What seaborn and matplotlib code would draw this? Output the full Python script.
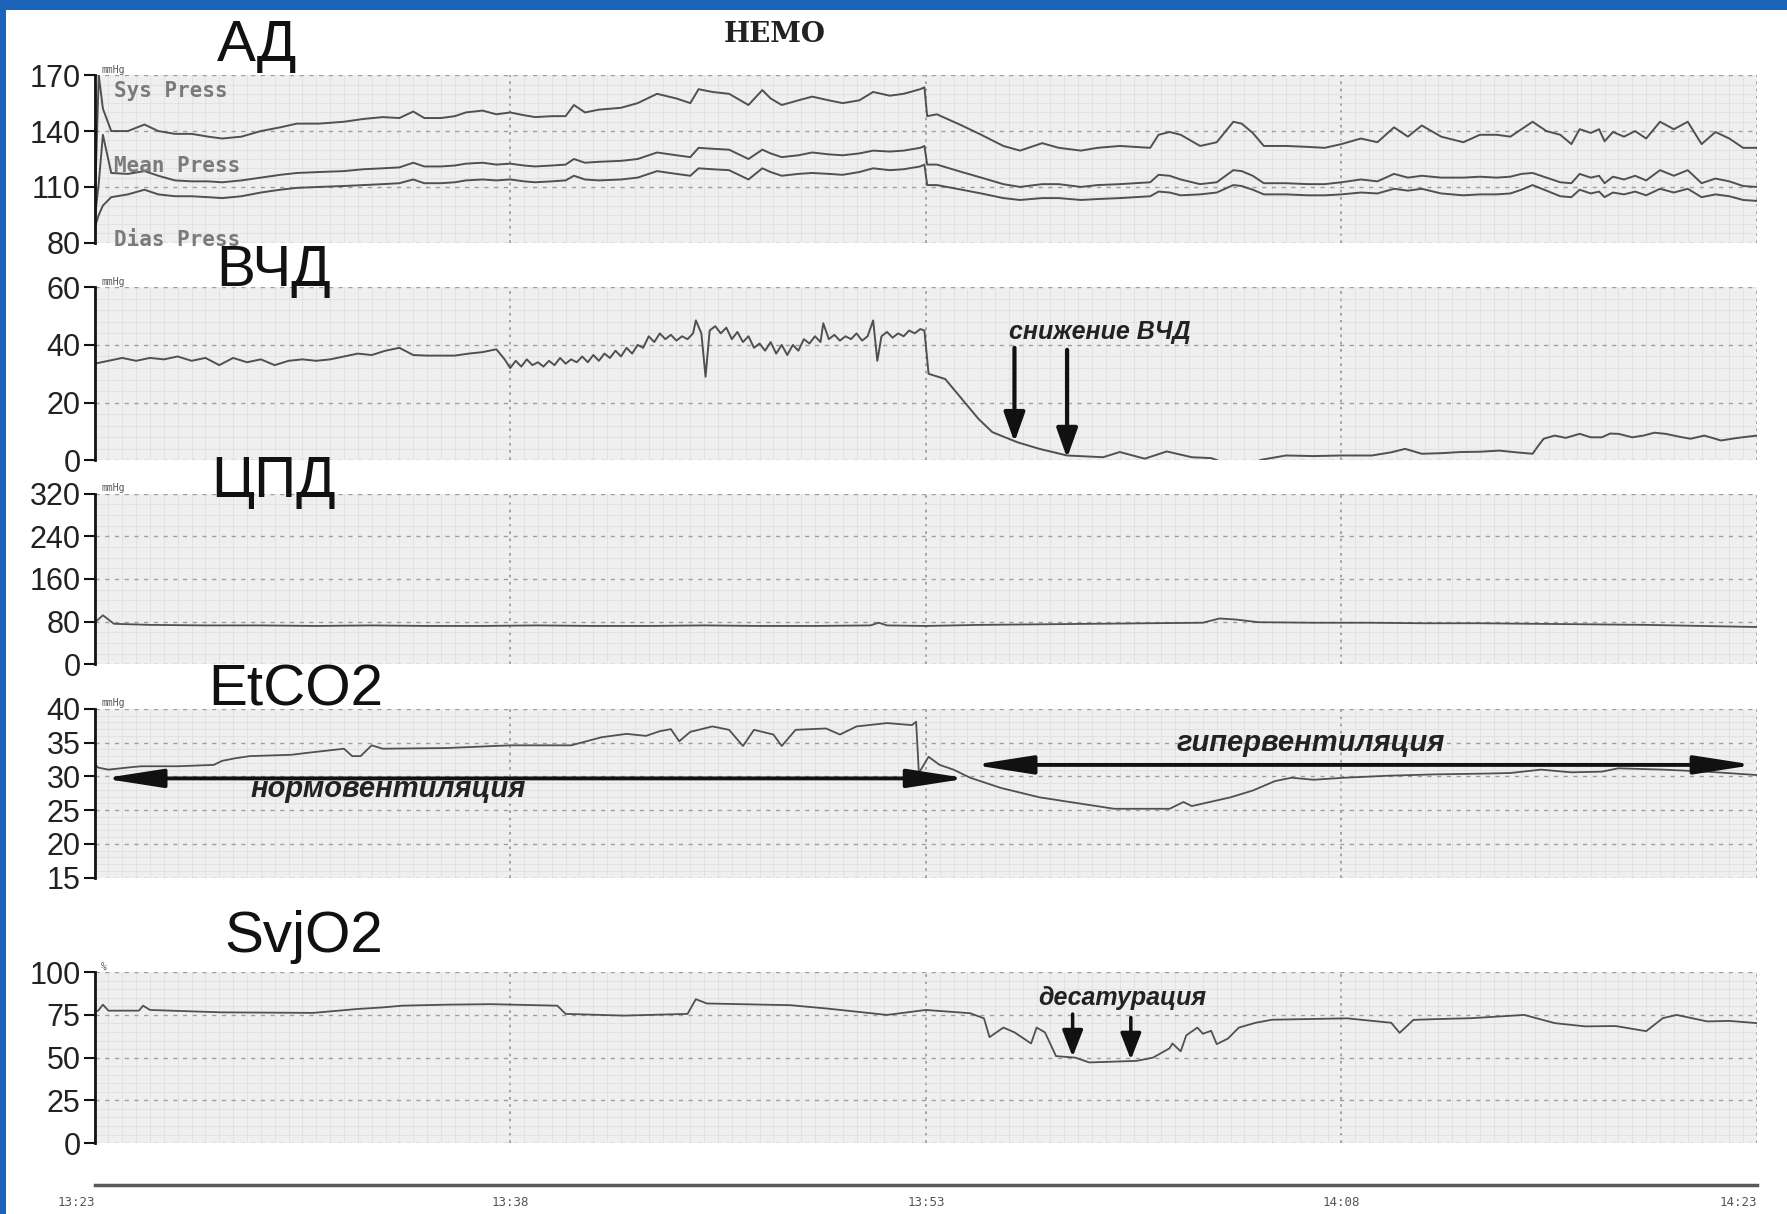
import numpy as np
import matplotlib
matplotlib.use("Agg")
import matplotlib.pyplot as plt
import seaborn as sns
from matplotlib.patches import Rectangle
from matplotlib.ticker import MultipleLocator

# ---------------- data (minutes from 13:23) ----------------
ad_t = [0.0, 0.15, 0.3, 0.6, 1.2, 1.8, 2.3, 2.9, 3.5, 4.1,
        4.6, 5.3, 6.0, 6.7, 7.3, 8.1, 9.0, 9.7, 10.4, 11.0,
        11.5, 11.9, 12.5, 13.0, 13.4, 14.0, 14.5, 15.0, 15.5, 15.9,
        16.5, 17.0, 17.3, 17.7, 18.2, 19.0, 19.6, 20.3, 21.0, 21.5,
        21.8, 22.3, 22.9, 23.6, 24.1, 24.4, 24.8, 25.4, 25.9, 26.5,
        27.0, 27.6, 28.1, 28.7, 29.2, 29.8, 29.95, 30.05, 30.4, 31.3,
        32.0, 32.8, 33.4, 34.2, 34.8, 35.6, 36.2, 37.0, 38.1, 38.4,
        38.8, 39.2, 39.9, 40.5, 41.1, 41.4, 41.8, 42.2, 43.0, 43.8,
        44.4, 45.0, 45.7, 46.3, 46.9, 47.4, 47.9, 48.6, 49.4, 50.0,
        50.6, 51.1, 51.5, 51.9, 52.4, 52.9, 53.3, 53.6, 54.0, 54.3,
        54.5, 54.8, 55.2, 55.6, 56.0, 56.5, 57.0, 57.5, 58.0, 58.5,
        59.0, 59.5, 60.0]
ad_sys = [96, 170, 152, 140, 140, 143.5, 140, 138.5, 138.5, 137,
          136, 137, 140, 142, 144, 144, 145, 146.5, 147.5, 147,
          150.5, 147, 147, 148, 150, 151, 149, 150, 148.5, 147.5,
          148, 148, 154, 150, 151.5, 152.5, 155, 160, 157.5, 155,
          162.5, 161, 160, 154, 162, 157.5, 154, 156.5, 158.5, 156.5,
          155, 156.5, 161, 159, 160, 162.5, 163.5, 148, 149, 143,
          138, 132, 129.5, 133.5, 131, 129.5, 131, 132, 131, 138,
          139.5, 138, 132, 134, 145, 144, 139, 132, 132, 131.5,
          131, 133, 136, 134, 142, 137, 143, 137, 134, 138,
          138, 137, 141, 145, 140, 138, 133, 141, 139, 141,
          134.5, 139.5, 137, 140, 136, 145, 141, 145, 133, 139.5,
          136, 131, 131]
ad_mean = [92, 112, 138, 117.5, 117, 118.5, 116, 113.5, 113, 113,
           112.5, 113.5, 115, 116.5, 117.5, 118, 118.5, 119.5, 120, 120.5,
           123, 121, 121, 121.5, 122.5, 123, 122, 122.5, 121.5, 121,
           121.5, 122, 125, 123, 123.5, 124, 125, 128.5, 127, 126,
           131, 130.5, 130, 125, 130, 128, 126, 127, 128.5, 127.5,
           127, 128, 129.5, 129, 129.5, 131, 132, 122, 122, 118,
           115, 111.5, 110, 111.5, 111.5, 110, 111, 111.5, 112.5, 116.5,
           116, 114, 111.5, 112.5, 119, 118.5, 116, 112, 112, 111.5,
           111.5, 112.5, 114, 113, 117, 115, 116, 115, 115, 115.5,
           115, 115.5, 117, 117.5, 115, 112.5, 112, 117, 115, 116,
           112, 115.5, 114, 116, 113.5, 119, 116, 119, 112, 114.5,
           113, 110.5, 110]
ad_dias = [88, 95, 100, 104.5, 106, 108.5, 106, 105, 105, 104.5,
           104, 105, 107, 108.5, 109.5, 110, 110.5, 111, 111.5, 112,
           114, 112, 112, 112.5, 113.5, 114, 113.5, 114, 113, 112.5,
           113, 113.5, 116, 114, 113.5, 114, 115, 118.5, 117, 116,
           120, 119.5, 119, 114, 120, 118, 116, 117, 117.5, 117,
           116.5, 118, 120, 119, 119.5, 121, 122, 111, 111, 108.5,
           106.5, 104, 103, 104, 104, 103, 103.5, 104, 105, 107.5,
           107, 105.5, 106, 107, 111, 110.5, 108.5, 106, 106, 105.5,
           105.5, 106, 107, 106.5, 109, 108, 109, 106.5, 105.5, 106,
           106, 106.5, 108.5, 111, 108, 105, 104.5, 108.5, 106.5, 107.5,
           104.5, 107, 106, 107.5, 105.5, 109, 107, 109, 104.5, 106,
           105, 103, 102.5]

icp_t = [0.0, 0.5, 1.0, 1.5, 2.0, 2.5, 3.0, 3.5, 4.0, 4.5,
         5.0, 5.5, 6.0, 6.5, 7.0, 7.5, 8.0, 8.5, 9.0, 9.5,
         10.0, 10.5, 11.0, 11.5, 12.0, 12.5, 13.0, 13.5, 14.0, 14.5,
         14.8, 15.0, 15.2, 15.4, 15.6, 15.8,
         16.0, 16.2, 16.4, 16.6, 16.8, 17.0, 17.2, 17.4, 17.6, 17.8,
         18.0, 18.2, 18.4, 18.6, 18.8, 19.0, 19.2, 19.4, 19.6, 19.8,
         20.0, 20.2, 20.4, 20.6, 20.8, 21.0, 21.2, 21.4, 21.6,
         21.7, 21.9, 22.05,
         22.2, 22.4, 22.6, 22.8, 23.0, 23.2, 23.4, 23.6, 23.8, 24.0,
         24.2, 24.4, 24.6, 24.8, 25.0, 25.2, 25.4, 25.6, 25.8,
         26.0, 26.2, 26.3,
         26.5, 26.7, 26.9, 27.1, 27.3, 27.5, 27.7, 27.9, 28.1,
         28.25, 28.4, 28.6, 28.8, 29.0, 29.2, 29.4, 29.6, 29.8, 29.95,
         30.1, 30.7, 31.3, 31.9, 32.4, 33.3, 34.1, 35.1, 36.4, 37.0,
         37.9, 38.7, 39.6, 40.3, 40.7, 41.0, 41.9, 42.1, 43.0, 44.0,
         45.0, 46.1, 46.8, 47.3, 47.9, 48.6, 49.3, 50.0, 50.7, 51.3,
         51.9, 52.1, 52.3, 52.7, 53.1, 53.6, 54.0, 54.4, 54.7, 55.0,
         55.5, 55.9, 56.3, 56.7, 57.2, 57.6, 58.1, 58.7, 59.3, 60.0]
icp_v = [33.5, 34.5, 35.5, 34.5, 35.5, 35.0, 36.0, 34.5, 35.5, 33.0,
         35.5, 34.0, 35.0, 33.0, 34.5, 35.0, 34.5, 35.0, 36.0, 37.0,
         36.5, 38.0, 39.0, 36.5, 36.3, 36.3, 36.3, 37.0, 37.5, 38.5,
         35, 32, 34.5, 32.5, 35, 33,
         34, 32.5, 34.5, 33, 35.5, 33.5, 35, 34, 36, 34,
         36.5, 34.5, 37, 35.5, 38, 36, 39, 37, 40, 39,
         43, 41, 44, 42, 43.5, 41.5, 43, 42, 44,
         48.5, 44, 29,
         45, 46.5, 44, 46, 42, 44.5, 41, 43, 39, 40.5,
         38, 41, 37, 40, 36.5, 40, 38, 42, 40.5,
         43, 41, 47.5,
         42, 43.5, 41.5, 43, 42, 44, 41.5, 43, 48.5,
         34.5, 43, 44.5, 42.5, 44, 43, 45, 44, 45.5, 45,
         30, 28.2, 21.3, 14.4, 9.8, 6.3, 4.0, 1.7, 1.1, 2.9,
         0.6, 3.1, 1.1, 0.8, -0.6, -0.8, -0.6, 0.2, 1.7, 1.5,
         1.7, 1.7, 2.8, 4.0, 2.3, 2.5, 2.9, 3.0, 3.4, 2.8,
         2.3, 5.0, 7.5, 8.6, 7.8, 9.2, 8.0, 8.0, 9.3, 9.2,
         8.0, 8.6, 9.6, 9.2, 8.2, 7.5, 8.6, 6.9, 7.8, 8.6]

cpp_t = [0, 0.3, 0.7, 2, 4, 6, 8, 10, 12, 14,
         16, 18, 20, 22, 24, 26, 28, 28.3, 28.6, 30,
         32, 34, 36, 38, 40, 40.6, 41.2, 42, 44, 46,
         48, 50, 52, 54, 56, 58, 60]
cpp_v = [78, 92, 76, 74, 73, 73, 72, 73, 72, 72,
         73, 72, 72, 73, 72, 72, 73, 78, 73, 72,
         74, 75, 76, 77, 78, 86, 84, 79, 78, 78,
         77, 77, 76, 75, 74, 72, 70]

etco2_t = [0.0, 0.13, 0.5, 1.4, 1.7, 3.0, 4.3, 4.6, 5.1, 5.6,
           7.1, 7.7, 9.0, 9.3, 9.6, 10.0, 10.4, 12.7, 15.0, 17.2,
           18.3, 19.2, 19.9, 20.4, 20.8, 21.1, 21.5, 22.3, 22.9, 23.4,
           23.8, 24.5, 24.8, 25.3, 26.4, 26.9, 27.5, 28.6, 29.5, 29.65,
           29.75, 30.1, 30.5, 31.0, 31.6, 32.7, 34.1, 35.2, 36.8, 38.8,
           39.3, 39.6, 41.0, 41.8, 42.6, 43.2, 44.0, 45.1, 46.7, 48.4,
           50.0, 51.1, 52.2, 53.3, 54.4, 55.0, 56.6, 58.2, 60.0]
etco2_v = [31.8, 31.3, 31.0, 31.4, 31.5, 31.5, 31.7, 32.3, 32.7, 33.0,
           33.2, 33.5, 34.1, 33.0, 33.0, 34.6, 34.1, 34.2, 34.6, 34.6,
           35.8, 36.3, 36.0, 36.7, 37.0, 35.2, 36.6, 37.4, 36.9, 34.5,
           36.9, 36.2, 34.5, 36.9, 37.1, 36.2, 37.4, 37.9, 37.6, 38.1,
           30.5, 32.9, 31.7, 31.0, 29.8, 28.3, 26.9, 26.2, 25.2, 25.2,
           26.2, 25.6, 26.9, 27.9, 29.3, 29.8, 29.5, 29.8, 30.1, 30.3,
           30.4, 30.5, 31.0, 30.6, 30.7, 31.2, 31.0, 30.7, 30.2]

svjo2_t = [0.0, 0.13, 0.3, 0.5, 1.6, 1.75, 2.0, 4.6, 7.9, 9.5,
           10.4, 11.1, 12.7, 14.3, 16.7, 17.0, 19.1, 21.4, 21.7, 22.1,
           25.1, 26.4, 28.6, 30.0, 31.6, 32.1, 32.3, 32.8, 33.2, 33.8,
           34.0, 34.3, 34.7, 35.4, 35.9, 37.6, 38.2, 38.8, 38.9, 39.2,
           39.4, 39.8, 40.0, 40.3, 40.5, 40.9, 41.3, 41.9, 42.5, 45.2,
           46.8, 47.1, 47.6, 48.3, 49.7, 51.6, 52.7, 53.8, 54.9, 56.0,
           56.6, 57.1, 58.2, 59.0, 60.0]
svjo2_v = [77.0, 77.5, 81.0, 77.5, 77.5, 80.4, 77.9, 76.5, 76.2, 78.5,
           79.4, 80.4, 81.0, 81.3, 80.4, 75.6, 74.6, 75.6, 84.2, 81.7,
           80.7, 78.8, 75.0, 77.9, 76.0, 73.0, 62.0, 67.6, 64.8, 58.3,
           67.6, 64.8, 50.9, 50.0, 47.2, 48.1, 50.0, 55.5, 58.3, 53.7,
           63.0, 67.6, 64.0, 65.7, 57.9, 61.1, 67.6, 70.4, 72.2, 73.0,
           70.4, 64.5, 72.1, 72.5, 73.1, 75.0, 70.2, 68.3, 68.5, 65.5,
           73.1, 75.0, 71.2, 71.5, 70.2]

ad_ticks = [80, 110, 140, 170]
icp_ticks = [0, 20, 40, 60]
cpp_ticks = [0, 80, 160, 240, 320]
etco2_ticks = [15, 20, 25, 30, 35, 40]
svjo2_ticks = [0, 25, 50, 75, 100]
time_ticks = [0, 15, 30, 45, 60]
time_labels = ["13:23", "13:38", "13:53", "14:08", "14:23"]

assert len(ad_t) == len(ad_sys) == len(ad_mean) == len(ad_dias)
assert len(icp_t) == len(icp_v)
assert len(cpp_t) == len(cpp_v)
assert len(etco2_t) == len(etco2_v)
assert len(svjo2_t) == len(svjo2_v)

# ---------------- figure ----------------
sns.set_theme(style="white")
plt.rcParams["font.family"] = ["Liberation Sans", "DejaVu Sans"]

W, H = 1787, 1214
fig = plt.figure(figsize=(W / 100, H / 100), dpi=100)
fig.patch.set_facecolor("#1a63b9")
fig.add_artist(Rectangle((6 / W, 0), 1, 1 - 10 / H, transform=fig.transFigure,
                         facecolor="white", edgecolor="none", zorder=-5))

LEFT = 94.6 / W
WIDTH = (1757 - 94.6) / W
LC = "#505050"


def make_ax(top_px, bot_px, yticks, minor_y):
    ax = fig.add_axes([LEFT, 1 - bot_px / H, WIDTH, (bot_px - top_px) / H])
    ax.set_facecolor("#efefef")
    ax.set_xlim(0, 60)
    ax.set_ylim(yticks[0], yticks[-1])
    ax.set_xticks(time_ticks)
    ax.set_xticklabels([])
    ax.xaxis.set_minor_locator(MultipleLocator(0.5))
    ax.set_yticks(yticks)
    ax.yaxis.set_minor_locator(MultipleLocator(minor_y))
    ax.set_axisbelow(True)
    ax.grid(which="minor", color="#dddddd", lw=0.5)
    ax.grid(which="major", axis="y", color="#9e9e9e", lw=1.0, ls=(0, (3, 4)))
    ax.grid(which="major", axis="x", color="#9e9e9e", lw=1.3, ls=(0, (1.5, 2.5)))
    for s in ["top", "right", "bottom"]:
        ax.spines[s].set_visible(False)
    ax.spines["left"].set_color("#111111")
    ax.spines["left"].set_linewidth(2)
    ax.tick_params(axis="y", which="major", left=True, length=8, width=1.5,
                   color="#111111", labelsize=22, labelcolor="#222222", pad=2,
                   direction="out")
    ax.tick_params(axis="y", which="minor", left=False, length=0)
    ax.tick_params(axis="x", which="both", bottom=False, length=0)
    return ax


def finish(ax, unit="mmHg"):
    ax.set_xlabel("")
    ax.set_ylabel("")
    ax.text(0.004, 1.004, unit, transform=ax.transAxes, fontsize=7,
            family="DejaVu Sans Mono", color="#555555", va="bottom", ha="left")


ANN = dict(style="italic", weight="bold", color="#222222", va="center")

# АД
ax_ad = make_ax(75.2, 242.8, ad_ticks, 5)
for vals in (ad_sys, ad_mean, ad_dias):
    sns.lineplot(x=ad_t, y=vals, ax=ax_ad, color=LC, lw=1.4, estimator=None,
                 sort=False, legend=False)
for txt, yv in (("Sys Press", 161.5), ("Mean Press", 121.5), ("Dias Press", 81.5)):
    ax_ad.text(0.7, yv, txt, family="DejaVu Sans Mono", weight="bold", fontsize=15,
               color="#7a7a7a", va="center", ha="left")
finish(ax_ad)

# ВЧД
ax_icp = make_ax(287.2, 460.4, icp_ticks, 4)
sns.lineplot(x=icp_t, y=icp_v, ax=ax_icp, color=LC, lw=1.4, estimator=None,
             sort=False, legend=False)
head = dict(arrowstyle="-|>,head_length=0.9,head_width=0.32", lw=3, color="#111111",
            mutation_scale=20, shrinkA=0, shrinkB=0)
ax_icp.annotate("", xy=(33.2, 6.3), xytext=(33.2, 39), arrowprops=head)
ax_icp.annotate("", xy=(35.1, 0.8), xytext=(35.1, 38.3), arrowprops=head)
ax_icp.text(33.0, 44.5, "снижение ВЧД", fontsize=18, ha="left", **ANN)
finish(ax_icp)

# ЦПД
ax_cpp = make_ax(493.5, 664.4, cpp_ticks, 20)
sns.lineplot(x=cpp_t, y=cpp_v, ax=ax_cpp, color=LC, lw=1.3, estimator=None,
             sort=False, legend=False)
finish(ax_cpp)

# EtCO2
ax_et = make_ax(708.9, 877.6, etco2_ticks, 1)
sns.lineplot(x=etco2_t, y=etco2_v, ax=ax_et, color=LC, lw=1.3, estimator=None,
             sort=False, legend=False)
dbl = dict(arrowstyle="<|-|>,head_length=1.8,head_width=0.28", lw=2.8, color="#111111",
           mutation_scale=20, shrinkA=0, shrinkB=0)
ax_et.annotate("", xy=(31.5, 29.7), xytext=(0.3, 29.7), arrowprops=dbl)
ax_et.annotate("", xy=(59.9, 31.7), xytext=(31.7, 31.7), arrowprops=dbl)
ax_et.text(10.6, 28.2, "нормовентиляция", fontsize=21, ha="center", **ANN)
ax_et.text(43.9, 35.0, "гипервентиляция", fontsize=21, ha="center", **ANN)
finish(ax_et)

# SvjO2
ax_sv = make_ax(972.2, 1143.1, svjo2_ticks, 5)
sns.lineplot(x=svjo2_t, y=svjo2_v, ax=ax_sv, color=LC, lw=1.3, estimator=None,
             sort=False, legend=False)
head2 = dict(arrowstyle="-|>,head_length=0.9,head_width=0.35", lw=2.5, color="#111111",
             mutation_scale=18, shrinkA=0, shrinkB=0)
ax_sv.annotate("", xy=(35.3, 50.5), xytext=(35.3, 75.5), arrowprops=head2)
ax_sv.annotate("", xy=(37.4, 48.8), xytext=(37.4, 73.5), arrowprops=head2)
ax_sv.text(37.1, 85.0, "десатурация", fontsize=18, ha="center", **ANN)
finish(ax_sv, unit="%")

# time axis
ax_t = fig.add_axes([LEFT, 1 - 1185 / H, WIDTH, 0.0005])
ax_t.set_facecolor("none")
for s in ["top", "right", "left"]:
    ax_t.spines[s].set_visible(False)
ax_t.spines["bottom"].set_color("#5a5a5a")
ax_t.spines["bottom"].set_linewidth(2.5)
ax_t.set_xlim(0, 60)
ax_t.set_yticks([])
ax_t.set_xticks(time_ticks)
ax_t.set_xticklabels(time_labels, family="DejaVu Sans Mono", fontsize=9, color="#555555")
ax_t.xaxis.set_minor_locator(MultipleLocator(5))
ax_t.tick_params(axis="x", which="major", direction="inout", length=12, width=1.5,
                 color="#333333", pad=2)
ax_t.tick_params(axis="x", which="minor", direction="inout", length=8, width=1.2,
                 color="#333333")
for lab in ax_t.get_xticklabels():
    if lab.get_text() == time_labels[-1]:
        lab.set_ha("right")
    if lab.get_text() == time_labels[0]:
        lab.set_ha("right")

# titles
title_font = dict(fontsize=42, color="#111111", ha="left", va="center",
                  family=["Liberation Sans", "DejaVu Sans"])
fig.text(216.5 / W, 1 - 45.6 / H, "АД", **title_font)
fig.text(216.5 / W, 1 - 271 / H, "ВЧД", **title_font)
fig.text(210.8 / W, 1 - 482 / H, "ЦПД", **title_font)
fig.text(208.6 / W, 1 - 690.6 / H, "EtCO2", **title_font)
fig.text(224.5 / W, 1 - 936.8 / H, "SvjO2", **title_font)
fig.text(775 / W, 1 - 34 / H, "HEMO", fontsize=20, weight="bold", family="DejaVu Serif",
         color="#222222", ha="center", va="center")

fig.savefig("out.png", dpi=100, facecolor=fig.get_facecolor())
